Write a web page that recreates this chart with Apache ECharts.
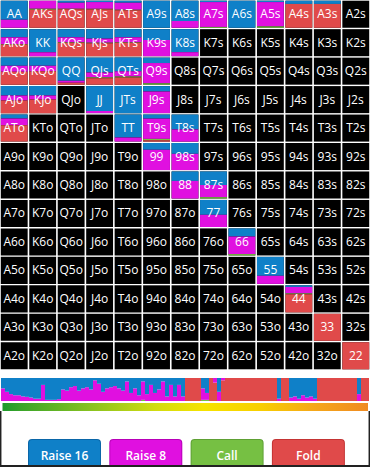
<!DOCTYPE html>
<html><head><meta charset="utf-8">
<style>html,body{margin:0;padding:0;background:#fff;}#c{width:370px;height:467px;}</style>
<script src="https://cdn.jsdelivr.net/npm/echarts/dist/echarts.min.js"></script>
</head><body><div id="c"></div>
<script>
// ---- data ----
const ranks = ['A','K','Q','J','T','9','8','7','6','5','4','3','2'];
const rangeHands = ['AA','AKs','AQs','AJs','ATs','A9s','A8s','A7s','A6s','A5s','A4s','A3s',
  'AKo','KK','KQs','KJs','KTs','K9s','K8s',
  'AQo','KQo','QQ','QJs','QTs','Q9s',
  'AJo','KJo','JJ','JTs','J9s',
  'ATo','TT','T9s','T8s',
  '99','98s','88','87s','77','66','55','44','33','22'];
const raise16Pct = [70,0,8,5,8,100,75,5,100,5,12,12,
  30,85,30,35,30,40,85,
  30,30,85,55,50,20,
  35,35,92,100,20,
  15,85,15,55,
  25,40,35,50,55,30,70,6,0,0];
const raise8Pct = [30,30,22,25,25,0,25,92,0,90,0,0,
  25,15,18,15,18,60,15,
  22,20,8,18,20,75,
  18,15,8,0,80,
  25,15,75,45,
  75,60,65,45,45,65,30,24,0,0];
const callPct = [0,3,2,2,2,0,0,3,0,5,0,0,
  2,0,2,2,2,0,0,
  0,0,0,3,3,5,
  0,0,0,0,0,
  0,0,5,0,
  0,0,0,5,0,5,0,3,0,0];
const foldPct = [0,67,68,68,65,0,0,0,0,0,88,88,
  43,0,50,48,50,0,0,
  48,50,7,24,27,0,
  47,50,0,0,0,
  60,0,5,0,
  0,0,0,0,0,0,0,67,100,100];

// strip of hands sorted by strength (percent per bin)
const stripRaise16 = [45,60,70,75,75,80,82,85,90,90,30,95,95,95,92,50,55,40,35,55,45,40,50,10,25,60,45,40,35,45,55,15,65,45,75,15,70,30,65,50,15,80,30,80,30,80,
  0,0,0,0,45,65,0,0,60,0,0,0,0,0,0,0,0,0,0,0,0,0,0,90,0,0,85,80,90,75,85,80,90,0,0,0,0,0,0,0,0,0,0,70,0,0];
const stripRaise8 = [55,40,30,25,25,20,18,15,10,10,70,5,5,5,8,50,45,60,65,45,55,60,50,90,75,40,55,60,65,55,45,85,35,55,25,80,30,70,35,50,85,20,70,20,70,20,
  0,0,0,0,50,30,0,20,40,10,0,0,0,0,0,0,0,0,0,0,0,0,0,10,0,0,15,20,10,25,15,20,10,0,0,0,0,0,0,0,0,0,0,30,0,0];
const stripCall = [0,0,0,0,0,0,0,0,0,0,0,0,0,0,0,0,0,0,0,0,0,0,0,0,0,0,0,0,0,0,0,0,0,0,0,5,0,0,0,0,0,0,0,0,0,0,
  0,0,0,0,5,5,0,0,0,0,0,0,0,0,0,0,0,0,0,0,0,0,0,0,0,0,0,0,0,0,0,0,0,0,0,0,0,0,0,0,0,0,0,0,0,0];
const stripFold = [0,0,0,0,0,0,0,0,0,0,0,0,0,0,0,0,0,0,0,0,0,0,0,0,0,0,0,0,0,0,0,0,0,0,0,0,0,0,0,0,0,0,0,0,0,0,
  100,100,100,100,0,0,100,80,0,90,100,100,100,100,100,100,100,100,100,100,100,100,100,0,100,100,0,0,0,0,0,0,0,100,100,100,100,100,100,100,100,100,100,0,100,100];
const legendNames = ['Raise 16','Raise 8','Call','Fold'];

// ---- styles ----
const COL = {r16:'#0f80c8', r8:'#e010e0', call:'#76c043', fold:'#e04a4a'};

function handLabel(r, c){
  if (r === c) return ranks[r] + ranks[c];
  if (c > r) return ranks[r] + ranks[c] + 's';
  return ranks[c] + ranks[r] + 'o';
}
const cellData = [];
const cellLabels = [];
for (let r = 0; r < 13; r++) for (let c = 0; c < 13; c++) {
  const lab = handLabel(r, c);
  const i = rangeHands.indexOf(lab);
  cellLabels.push(lab);
  cellData.push(i < 0 ? [c, r, 0, 0, 0, 0] : [c, r, raise16Pct[i], raise8Pct[i], callPct[i], foldPct[i]]);
}

function renderCell(params, api){
  const c = api.value(0), r = api.value(1);
  const p0 = api.coord([c, r]), p1 = api.coord([c + 1, r + 1]);
  const x = p0[0] + 0.8, y = p0[1] + 0.7, w = p1[0] - p0[0] - 1.6, h = p1[1] - p0[1] - 1.4;
  const children = [{type:'rect', shape:{x, y, width:w, height:h}, style:{fill:'#000'}}];
  const segs = [[api.value(2), COL.r16],[api.value(3), COL.r8],[api.value(4), COL.call],[api.value(5), COL.fold]];
  let acc = 0;
  segs.forEach(s => {
    if (s[0] > 0) {
      children.push({type:'rect', shape:{x, y: y + h * acc / 100, width:w, height:h * s[0] / 100}, style:{fill:s[1]}});
      acc += s[0];
    }
  });
  children.push({type:'text', style:{text:cellLabels[params.dataIndex], x: x + w / 2, y: y + h / 2 - 0.5,
    align:'center', verticalAlign:'middle', fill:'#fff', font:'12px "Open Sans"'}});
  return {type:'group', children};
}

const stripCats = stripFold.map((_, i) => String(i));
const rich = {};
const keys = {'Raise 16':'r16','Raise 8':'r8','Call':'call','Fold':'fold'};
const borders = {r16:'#0a66a8', r8:'#b800b8', call:'#5ea034', fold:'#c43434'};
Object.keys(keys).forEach(n => {
  const k = keys[n];
  rich[k] = {width:71, height:30, lineHeight:30, align:'center', verticalAlign:'middle',
    backgroundColor:COL[k], borderColor:borders[k], borderWidth:1, borderRadius:3,
    color:'#fff', fontSize:12, fontWeight:600, fontFamily:'Open Sans'};
});

function barStyle(col){ return {color:col}; }

const chart = echarts.init(document.getElementById('c'), null, {renderer:'svg'});
chart.setOption({
  animation:false,
  backgroundColor:'#fff',
  grid:[{left:0, top:0, width:370, height:370},{left:1, top:378, width:368, height:23}],
  xAxis:[{type:'value', min:0, max:13, show:false, gridIndex:0},
         {type:'category', data:stripCats, show:false, gridIndex:1}],
  yAxis:[{type:'value', min:0, max:13, inverse:true, show:false, gridIndex:0},
         {type:'value', min:0, max:100, show:false, gridIndex:1}],
  legend:{data:legendNames, top:439, left:24, padding:0, itemGap:4.3, icon:'none', itemWidth:0, itemHeight:0,
    selectedMode:false, formatter:n => '{' + keys[n] + '|' + n + '}', textStyle:{rich}},
  graphic:[
    {type:'rect', z:100, shape:{x:2.5, y:403, width:365.5, height:8},
      style:{fill:new echarts.graphic.LinearGradient(0,0,1,0,[
        {offset:0, color:'#1e9a2c'},{offset:0.05, color:'#3aa52a'},{offset:0.25, color:'#8cc420'},
        {offset:0.42, color:'#d2dc10'},{offset:0.55, color:'#f6e300'},{offset:0.7, color:'#f8d000'},
        {offset:0.85, color:'#f5a81a'},{offset:1, color:'#f08a22'}])}},
    {type:'line', z:100, shape:{x1:0.7, y1:411, x2:0.7, y2:467}, style:{stroke:'#222', lineWidth:1.5}},
    {type:'line', z:100, shape:{x1:369.3, y1:411, x2:369.3, y2:467}, style:{stroke:'#222', lineWidth:1.5}},
    {type:'line', z:100, shape:{x1:0, y1:466, x2:370, y2:466}, style:{stroke:'#222', lineWidth:2}}
  ],
  series:[
    {type:'custom', name:'range', xAxisIndex:0, yAxisIndex:0, data:cellData, renderItem:renderCell, silent:true, clip:false},
    {type:'bar', name:'Fold', xAxisIndex:1, yAxisIndex:1, stack:'s', data:stripFold, barCategoryGap:'0%', itemStyle:barStyle(COL.fold), silent:true},
    {type:'bar', name:'Call', xAxisIndex:1, yAxisIndex:1, stack:'s', data:stripCall, barCategoryGap:'0%', itemStyle:barStyle(COL.call), silent:true},
    {type:'bar', name:'Raise 8', xAxisIndex:1, yAxisIndex:1, stack:'s', data:stripRaise8, barCategoryGap:'0%', itemStyle:barStyle(COL.r8), silent:true},
    {type:'bar', name:'Raise 16', xAxisIndex:1, yAxisIndex:1, stack:'s', data:stripRaise16, barCategoryGap:'0%', itemStyle:barStyle(COL.r16), silent:true}
  ]
});
</script></body></html>
